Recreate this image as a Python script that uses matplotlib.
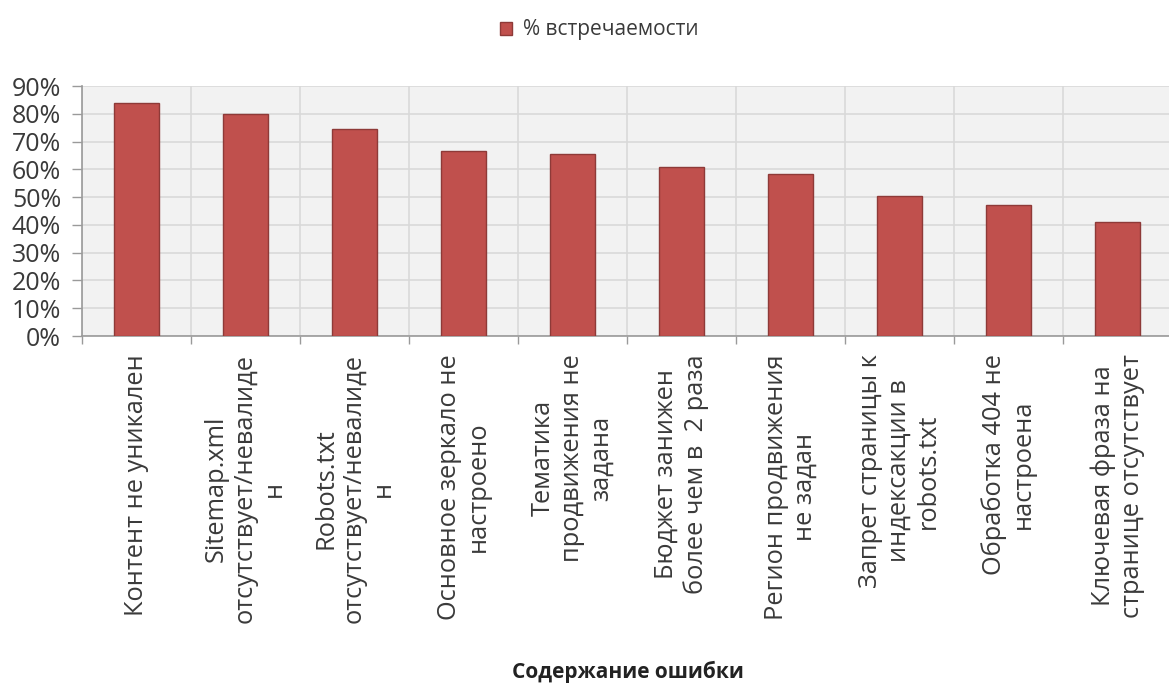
import matplotlib
matplotlib.use('Agg')
import matplotlib.pyplot as plt
from matplotlib.patches import Patch

plt.rcParams['font.family'] = ['Open Sans', 'DejaVu Sans']

# data
categories = [
    'Контент не уникален',
    'Sitemap.xml\nотсутствует/невалиде\nн',
    'Robots.txt\nотсутствует/невалиде\nн',
    'Основное зеркало не\nнастроено',
    'Тематика\nпродвижения не\nзадана',
    'Бюджет занижен\nболее чем в  2 раза',
    'Регион продвижения\nне задан',
    'Запрет страницы к\nиндексакции в\nrobots.txt',
    'Обработка 404 не\nнастроена',
    'Ключевая фраза на\nстранице отсутствует',
]
share = [0.84, 0.80, 0.745, 0.665, 0.655, 0.61, 0.585, 0.505, 0.47, 0.41]
yticks = [0, 0.1, 0.2, 0.3, 0.4, 0.5, 0.6, 0.7, 0.8, 0.9]
series_name = '% встречаемости'
x_title = 'Содержание ошибки'

bar_color = '#C0504D'
edge_color = '#8E3A38'
text_color = '#3A3A3A'
axis_color = '#9A9A9A'

fig = plt.figure(figsize=(11.69, 6.84), dpi=100)
W, H = 1169, 684
left, right, top, bottom = 82, 1172, 86, 336
ax = fig.add_axes([left / W, 1 - bottom / H, (right - left) / W, (bottom - top) / H])
ax.set_facecolor('#F2F2F2')

x = list(range(len(categories)))
ax.bar(x, share, width=0.41, color=bar_color, edgecolor=edge_color, linewidth=1, zorder=3)

ax.set_xlim(-0.5, len(categories) - 0.5)
ax.set_ylim(0, 0.9)

ax.set_yticks(yticks)
ax.set_yticklabels(['%d%%' % round(v * 100) for v in yticks])
ax.tick_params(axis='y', length=7, width=1, color=axis_color, labelsize=18,
               labelcolor=text_color, pad=8)

ax.set_xticks(x)
ax.set_xticklabels(categories, rotation=90, ha='center', va='top',
                   multialignment='center', fontsize=18.3, color=text_color)
ax.tick_params(axis='x', which='major', length=0, pad=13)
ax.set_xticks([i + 0.5 for i in x[:-1]] + [-0.5], minor=True)
ax.tick_params(axis='x', which='minor', length=6, width=1, color=axis_color)

ax.grid(axis='y', color='#D9D9D9', linewidth=1.2, zorder=0)
ax.grid(axis='x', which='minor', color='#D9D9D9', linewidth=1.2, zorder=0)
ax.set_axisbelow(True)

for s in ['top', 'right']:
    ax.spines[s].set_visible(False)
for s in ['left', 'bottom']:
    ax.spines[s].set_color(axis_color)
    ax.spines[s].set_linewidth(1.2)

fig.text(628 / W, 1 - 672 / H, x_title, ha='center', va='center',
         fontsize=15, fontweight='bold', color='#222222')

handle = Patch(facecolor=bar_color, edgecolor=edge_color)
fig.legend([handle], [series_name], loc='center', bbox_to_anchor=(599 / W, 1 - 30 / H),
           frameon=False, fontsize=15, handlelength=0.6, handleheight=0.6,
           handletextpad=0.5, labelcolor=text_color)

fig.savefig('out.png', dpi=100)
